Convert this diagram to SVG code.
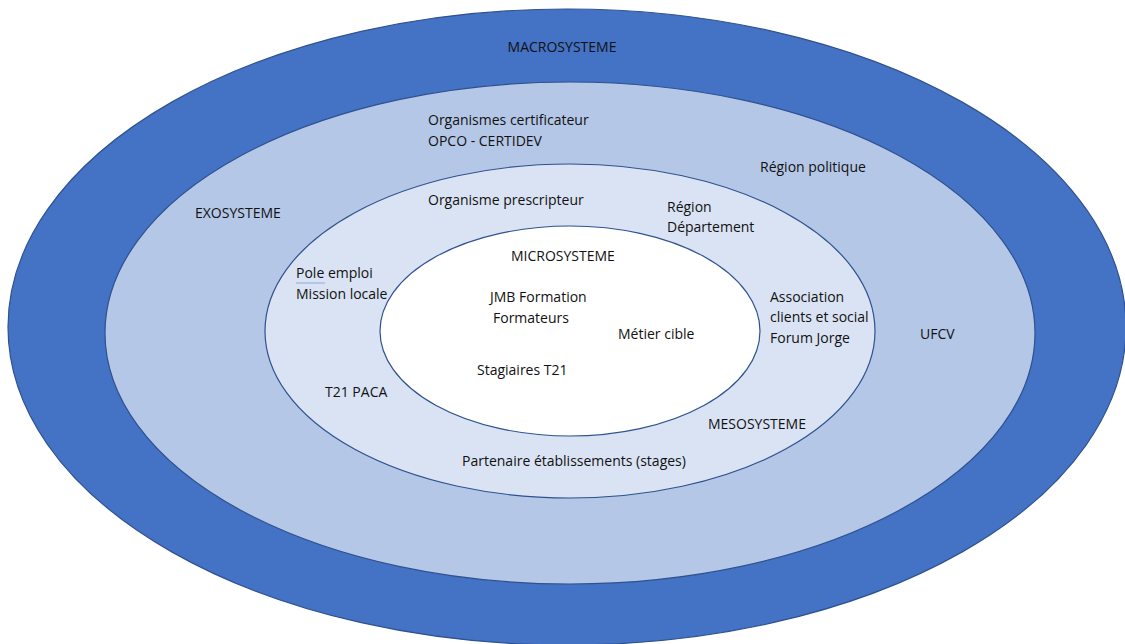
<svg xmlns="http://www.w3.org/2000/svg" width="1125" height="644" viewBox="0 0 1125 644">
<style>
.ring{stroke:#2F528F;stroke-width:1.2}
text{font-family:"Open Sans","Noto Sans","DejaVu Sans",sans-serif;font-size:14px;fill:#111}
</style>
<rect width="1125" height="644" fill="#ffffff"/>
<g id="macrosysteme">
<ellipse class="ring" cx="567" cy="327" rx="559" ry="318" fill="#4472C4"/>
<text x="562" y="52" text-anchor="middle">MACROSYSTEME</text>
</g>
<g id="exosysteme">
<ellipse class="ring" cx="570" cy="333" rx="465" ry="251" fill="#B4C7E7"/>
<text x="428" y="125">Organismes certificateur</text>
<text x="428" y="146">OPCO - CERTIDEV</text>
<text x="760" y="172">Région politique</text>
<text x="195" y="218">EXOSYSTEME</text>
<text x="920" y="339">UFCV</text>
</g>
<g id="mesosysteme">
<ellipse class="ring" cx="570" cy="331" rx="305" ry="167" fill="#DAE3F3"/>
<text x="428" y="205">Organisme prescripteur</text>
<text x="667" y="212">Région</text>
<text x="667" y="232">Département</text>
<text x="296" y="278">Pole emploi</text>
<line x1="296" y1="283" x2="325" y2="283" stroke="#8FAADC" stroke-width="1"/>
<text x="296" y="299">Mission locale</text>
<text x="770" y="302">Association</text>
<text x="770" y="322">clients et social</text>
<text x="770" y="343">Forum Jorge</text>
<text x="325" y="397">T21 PACA</text>
<text x="708" y="429">MESOSYSTEME</text>
<text x="462" y="466">Partenaire établissements (stages)</text>
</g>
<g id="microsysteme">
<ellipse class="ring" cx="570" cy="331" rx="190" ry="105" fill="#ffffff"/>
<text x="511" y="261">MICROSYSTEME</text>
<text x="490" y="302">JMB Formation</text>
<text x="493" y="323">Formateurs</text>
<text x="618" y="339">Métier cible</text>
<text x="477" y="375">Stagiaires T21</text>
</g>
<g id="connectors"></g>
</svg>
